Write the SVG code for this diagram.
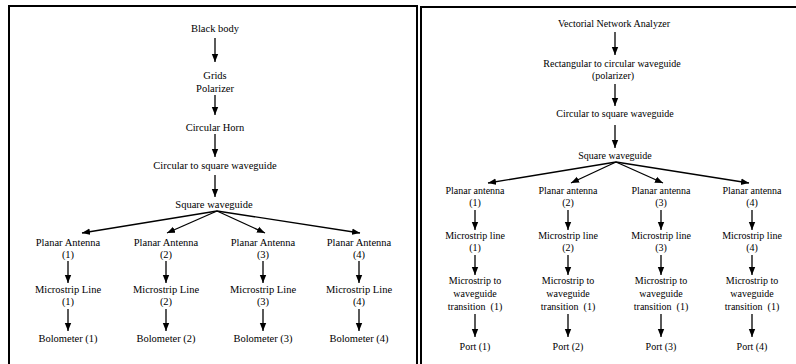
<svg xmlns="http://www.w3.org/2000/svg" width="796" height="364" viewBox="0 0 796 364">
<style>
text{font-family:"Liberation Serif","Times New Roman","DejaVu Serif",serif;fill:#000;text-anchor:middle}
.l{font-size:10.5px}
.r{font-size:10px}
.a{stroke:#000;stroke-width:1.3;fill:none;marker-end:url(#ah)}
.b{stroke:#000;stroke-width:2;fill:none}
</style>
<defs>
<marker id="ah" markerWidth="8" markerHeight="8" refX="6" refY="3" orient="auto" markerUnits="userSpaceOnUse" viewBox="0 0 6 6">
<path d="M0,0.6 L6,3 L0,5.4 Z" fill="#000"/>
</marker>
</defs>
<g id="frames">
<path class="b" d="M9,366 V6 H417 V366"/>
<path class="b" d="M421,366 V7 H798"/>
</g>
<g id="connectors">
<line class="a" x1="215" y1="38" x2="215" y2="62"/>
<line class="a" x1="215" y1="95" x2="215" y2="115"/>
<line class="a" x1="215" y1="134" x2="215" y2="157"/>
<line class="a" x1="215" y1="175" x2="215" y2="197"/>
<line class="a" x1="217" y1="211" x2="82" y2="233"/>
<line class="a" x1="217" y1="211" x2="167" y2="233"/>
<line class="a" x1="217" y1="211" x2="265" y2="233"/>
<line class="a" x1="217" y1="211" x2="360" y2="233"/>
<line class="a" x1="68" y1="261" x2="68" y2="283"/>
<line class="a" x1="166" y1="261" x2="166" y2="283"/>
<line class="a" x1="263" y1="261" x2="263" y2="283"/>
<line class="a" x1="359" y1="261" x2="359" y2="283"/>
<line class="a" x1="68" y1="309" x2="68" y2="331"/>
<line class="a" x1="166" y1="309" x2="166" y2="331"/>
<line class="a" x1="263" y1="309" x2="263" y2="331"/>
<line class="a" x1="359" y1="309" x2="359" y2="331"/>
<line class="a" x1="615" y1="32" x2="615" y2="55"/>
<line class="a" x1="615" y1="84" x2="615" y2="106"/>
<line class="a" x1="615" y1="125" x2="615" y2="148"/>
<line class="a" x1="616" y1="162" x2="488" y2="183"/>
<line class="a" x1="616" y1="162" x2="571" y2="183"/>
<line class="a" x1="616" y1="162" x2="663" y2="183"/>
<line class="a" x1="616" y1="162" x2="749" y2="183"/>
<line class="a" x1="475" y1="210" x2="475" y2="230"/>
<line class="a" x1="568" y1="210" x2="568" y2="230"/>
<line class="a" x1="661" y1="210" x2="661" y2="230"/>
<line class="a" x1="752" y1="210" x2="752" y2="230"/>
<line class="a" x1="475" y1="255" x2="475" y2="275"/>
<line class="a" x1="568" y1="255" x2="568" y2="275"/>
<line class="a" x1="661" y1="255" x2="661" y2="275"/>
<line class="a" x1="752" y1="255" x2="752" y2="275"/>
<line class="a" x1="475" y1="314" x2="475" y2="337"/>
<line class="a" x1="568" y1="314" x2="568" y2="337"/>
<line class="a" x1="661" y1="314" x2="661" y2="337"/>
<line class="a" x1="752" y1="314" x2="752" y2="337"/>
</g>
<g id="l-blackbody"><text class="l" x="215" y="31.5">Black body</text></g>
<g id="l-grids"><text class="l" x="215" y="78.5">Grids</text><text class="l" x="215" y="91.5">Polarizer</text></g>
<g id="l-horn"><text class="l" x="215" y="130.5">Circular Horn</text></g>
<g id="l-c2s"><text class="l" x="215" y="168.5">Circular to square waveguide</text></g>
<g id="l-sq"><text class="l" x="214" y="207.5">Square waveguide</text></g>
<g id="l-pa1"><text class="l" x="68" y="245.5">Planar Antenna</text><text class="l" x="68" y="258">(1)</text></g>
<g id="l-pa2"><text class="l" x="166" y="245.5">Planar Antenna</text><text class="l" x="166" y="258">(2)</text></g>
<g id="l-pa3"><text class="l" x="263" y="245.5">Planar Antenna</text><text class="l" x="263" y="258">(3)</text></g>
<g id="l-pa4"><text class="l" x="359" y="245.5">Planar Antenna</text><text class="l" x="359" y="258">(4)</text></g>
<g id="l-ml1"><text class="l" x="68" y="292.5">Microstrip Line</text><text class="l" x="68" y="305">(1)</text></g>
<g id="l-ml2"><text class="l" x="166" y="292.5">Microstrip Line</text><text class="l" x="166" y="305">(2)</text></g>
<g id="l-ml3"><text class="l" x="263" y="292.5">Microstrip Line</text><text class="l" x="263" y="305">(3)</text></g>
<g id="l-ml4"><text class="l" x="359" y="292.5">Microstrip Line</text><text class="l" x="359" y="305">(4)</text></g>
<g id="l-bo1"><text class="l" x="68" y="341.5">Bolometer (1)</text></g>
<g id="l-bo2"><text class="l" x="166" y="341.5">Bolometer (2)</text></g>
<g id="l-bo3"><text class="l" x="263" y="341.5">Bolometer (3)</text></g>
<g id="l-bo4"><text class="l" x="359" y="341.5">Bolometer (4)</text></g>
<g id="r-vna"><text class="r" x="614" y="26.5">Vectorial Network Analyzer</text></g>
<g id="r-r2c"><text class="r" x="612" y="66.5">Rectangular to circular waveguide</text><text class="r" x="613" y="78.5">(polarizer)</text></g>
<g id="r-c2s"><text class="r" x="615" y="116.5">Circular to square waveguide</text></g>
<g id="r-sq"><text class="r" x="615" y="158.5">Square waveguide</text></g>
<g id="r-pa1"><text class="r" x="475" y="193.5">Planar antenna</text><text class="r" x="475" y="206">(1)</text></g>
<g id="r-pa2"><text class="r" x="568" y="193.5">Planar antenna</text><text class="r" x="568" y="206">(2)</text></g>
<g id="r-pa3"><text class="r" x="661" y="193.5">Planar antenna</text><text class="r" x="661" y="206">(3)</text></g>
<g id="r-pa4"><text class="r" x="752" y="193.5">Planar antenna</text><text class="r" x="752" y="206">(4)</text></g>
<g id="r-ml1"><text class="r" x="475" y="238.5">Microstrip line</text><text class="r" x="475" y="251">(1)</text></g>
<g id="r-ml2"><text class="r" x="568" y="238.5">Microstrip line</text><text class="r" x="568" y="251">(2)</text></g>
<g id="r-ml3"><text class="r" x="661" y="238.5">Microstrip line</text><text class="r" x="661" y="251">(3)</text></g>
<g id="r-ml4"><text class="r" x="752" y="238.5">Microstrip line</text><text class="r" x="752" y="251">(4)</text></g>
<g id="r-tr1"><text class="r" x="475" y="283.5">Microstrip to</text><text class="r" x="475" y="296.5">waveguide</text><text class="r" x="475" y="309.5" xml:space="preserve">transition  (1)</text></g>
<g id="r-tr2"><text class="r" x="568" y="283.5">Microstrip to</text><text class="r" x="568" y="296.5">waveguide</text><text class="r" x="568" y="309.5" xml:space="preserve">transition  (1)</text></g>
<g id="r-tr3"><text class="r" x="661" y="283.5">Microstrip to</text><text class="r" x="661" y="296.5">waveguide</text><text class="r" x="661" y="309.5" xml:space="preserve">transition  (1)</text></g>
<g id="r-tr4"><text class="r" x="752" y="283.5">Microstrip to</text><text class="r" x="752" y="296.5">waveguide</text><text class="r" x="752" y="309.5" xml:space="preserve">transition  (1)</text></g>
<g id="r-p1"><text class="r" x="475" y="349.5">Port (1)</text></g>
<g id="r-p2"><text class="r" x="568" y="349.5">Port (2)</text></g>
<g id="r-p3"><text class="r" x="661" y="349.5">Port (3)</text></g>
<g id="r-p4"><text class="r" x="752" y="349.5">Port (4)</text></g>
</svg>
